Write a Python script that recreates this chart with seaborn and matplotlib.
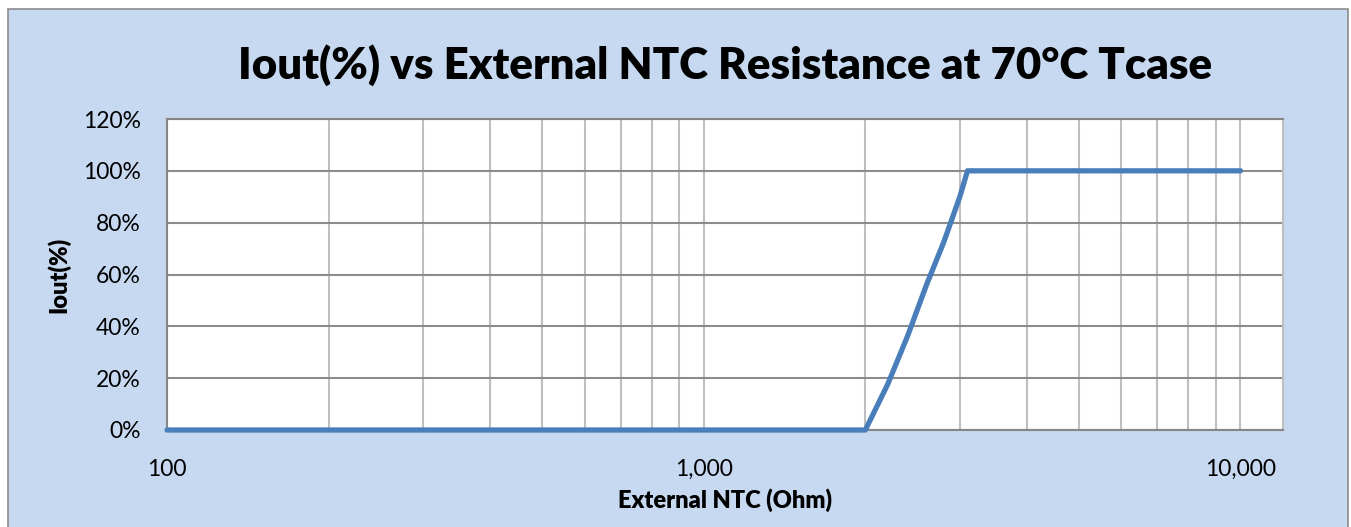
import numpy as np
import pandas as pd
import seaborn as sns
import matplotlib.pyplot as plt
from matplotlib.ticker import FixedLocator, FuncFormatter, NullFormatter
from matplotlib.patches import Rectangle

# values
ntc_ohm = [100, 2000, 2200, 2400, 2600, 2800, 3000, 3100, 10000]
iout_pct = [0, 0, 17.5, 36.5, 56, 72.5, 90, 100, 100]
y_ticks = [0, 20, 40, 60, 80, 100, 120]
x_major = [100, 1000, 10000]

df = pd.DataFrame({'ntc': ntc_ohm, 'iout': iout_pct})

sns.set_style('white')
plt.rcParams['font.family'] = ['Lato', 'DejaVu Sans']
plt.rcParams['text.color'] = 'black'
plt.rcParams['axes.labelcolor'] = 'black'

fig = plt.figure(figsize=(13.51, 5.27), dpi=100)
fig.patch.set_facecolor('white')
# chart area background with grey border
fig.add_artist(Rectangle((8 / 1351, -0.01), 1340 / 1351, 1 - 9 / 527 + 0.01,
                         transform=fig.transFigure, facecolor='#C6D9F1',
                         edgecolor='#8C8C8C', linewidth=1.2, zorder=-10))

ax = fig.add_axes([167 / 1351, 1 - 430 / 527, (1283 - 167) / 1351, (430 - 119) / 527])
ax.set_facecolor('white')

sns.lineplot(data=df, x='ntc', y='iout', ax=ax, color='#4A7EBB', linewidth=3.8,
             solid_capstyle='round', solid_joinstyle='round', zorder=5, clip_on=False)

ax.set_xscale('log')
ax.set_xlim(100, 12000)
ax.set_ylim(0, 120)

minor = [m * d for d in (100, 1000) for m in range(2, 10)]
ax.xaxis.set_major_locator(FixedLocator(x_major))
ax.xaxis.set_minor_locator(FixedLocator(minor))
ax.xaxis.set_minor_formatter(NullFormatter())
ax.xaxis.set_major_formatter(FuncFormatter(lambda v, p: f'{int(v):,}'))
ax.set_yticks(y_ticks)
ax.yaxis.set_major_formatter(FuncFormatter(lambda v, p: f'{int(v)}%'))

ax.grid(True, which='both', axis='x', color='#BFBFBF', linewidth=1.5)
ax.grid(True, which='major', axis='y', color='#8C8C8C', linewidth=1.5)
ax.set_axisbelow(True)

ax.tick_params(axis='both', which='both', length=0, labelsize=16.5, colors='black')
ax.tick_params(axis='y', pad=19)
ax.tick_params(axis='x', pad=21)

for side in ('left', 'top'):
    ax.spines[side].set_color('#868686')
    ax.spines[side].set_linewidth(1.5)
ax.spines['right'].set_color('#BFBFBF')
ax.spines['right'].set_linewidth(1.5)
ax.spines['bottom'].set_color('#868686')
ax.spines['bottom'].set_linewidth(1.5)

ax.set_title('Iout(%) vs External NTC Resistance at 70°C Tcase',
             fontsize=31.5, fontweight='heavy', pad=29, color='black')
ax.set_xlabel('External NTC (Ohm)', fontsize=17, fontweight='heavy', labelpad=6)
ax.set_ylabel('Iout(%)', fontsize=17, fontweight='heavy', labelpad=9)

fig.savefig('out.png', dpi=100)
